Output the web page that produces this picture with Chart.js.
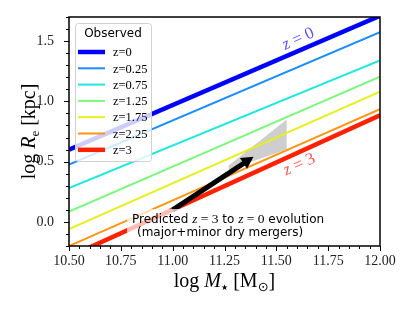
<!DOCTYPE html>
<html>
<head>
<meta charset="utf-8">
<script src="https://cdn.jsdelivr.net/npm/chart.js@4.4.1/dist/chart.umd.min.js"></script>
<style>
  body { margin: 0; background: #fff; }
  #wrap { width: 415px; height: 311px; }
</style>
</head>
<body>
<div id="wrap"><canvas id="sizeChart"></canvas></div>
<script>
// log stellar mass (x) end points shared by all relations
const logMass = [10.5, 12.0];

// observed size-mass relations, log Re at the two mass end points
const logReZ0 = [0.60, 1.71];
const logReZ025 = [0.475, 1.575];
const logReZ075 = [0.28, 1.34];
const logReZ125 = [0.085, 1.205];
const logReZ175 = [-0.06, 1.08];
const logReZ225 = [-0.20, 0.935];
const logReZ3 = [-0.29, 0.885];

const zLabels = ["z=0", "z=0.25", "z=0.75", "z=1.25", "z=1.75", "z=2.25", "z=3"];
const zColors = ["#0000ff", "#1a8cff", "#1ee8e0", "#7cf77c", "#e6f01e", "#ff9410", "#ff2000"];
const zWidths = [4.5, 2, 2, 2, 2, 2, 4.5];

// predicted evolution: arrow and shaded range
const arrowMass = [11.0, 11.39];
const arrowRe = [0.10, 0.54];
const wedgeMass = [11.27, 11.55, 11.55, 11.27];
const wedgeRe = [0.467, 0.85, 0.60, 0.433];

const xTicks = [10.5, 10.75, 11.0, 11.25, 11.5, 11.75, 12.0];
const yTicks = [0.0, 0.5, 1.0, 1.5];

const serif = "'Liberation Serif', 'DejaVu Serif', serif";
const sans = "'DejaVu Sans', sans-serif";

let relations = [logReZ0, logReZ025, logReZ075, logReZ125, logReZ175, logReZ225, logReZ3];
let datasets = relations.map((vals, i) => ({
    label: zLabels[i],
    data: logMass.map((m, k) => ({ x: m, y: vals[k] })),
    borderColor: zColors[i],
    borderWidth: zWidths[i],
    showLine: true,
    pointRadius: 0,
    clip: 0
}));

// draw a row of text pieces with different fonts
function drawRuns(ctx, runs, x, y, align) {
    let total = 0;
    runs.forEach(r => { ctx.font = r.font; total += ctx.measureText(r.text).width; });
    let cx = align === "center" ? x - total / 2 : x;
    ctx.textAlign = "left";
    runs.forEach(r => {
        ctx.font = r.font;
        ctx.fillStyle = r.color || "#000";
        ctx.fillText(r.text, cx, y + (r.dy || 0));
        cx += ctx.measureText(r.text).width;
    });
}

const overlay = {
    id: "overlay",
    beforeDatasetsDraw(chart) {
        let ctx = chart.ctx, xs = chart.scales.x, ys = chart.scales.y, a = chart.chartArea;
        ctx.save();
        ctx.beginPath();
        ctx.rect(a.left, a.top, a.right - a.left, a.bottom - a.top);
        ctx.clip();
        ctx.beginPath();
        wedgeMass.forEach((m, i) => {
            let px = xs.getPixelForValue(m), py = ys.getPixelForValue(wedgeRe[i]);
            if (i === 0) ctx.moveTo(px, py); else ctx.lineTo(px, py);
        });
        ctx.closePath();
        ctx.fillStyle = "rgba(190,190,190,0.75)";
        ctx.fill();
        ctx.restore();
    },
    afterDatasetsDraw(chart) {
        let ctx = chart.ctx, xs = chart.scales.x, ys = chart.scales.y;
        ctx.save();

        // arrow
        let x0 = xs.getPixelForValue(arrowMass[0]), y0 = ys.getPixelForValue(arrowRe[0]);
        let x1 = xs.getPixelForValue(arrowMass[1]), y1 = ys.getPixelForValue(arrowRe[1]);
        let ang = Math.atan2(y1 - y0, x1 - x0);
        let headLen = 12, headW = 6.5;
        let bx = x1 - headLen * Math.cos(ang), by = y1 - headLen * Math.sin(ang);
        ctx.strokeStyle = "#000";
        ctx.lineWidth = 5;
        ctx.beginPath();
        ctx.moveTo(x0, y0);
        ctx.lineTo(bx + 2 * Math.cos(ang), by + 2 * Math.sin(ang));
        ctx.stroke();
        ctx.fillStyle = "#000";
        ctx.beginPath();
        ctx.moveTo(x1, y1);
        ctx.lineTo(bx + headW * Math.sin(ang), by - headW * Math.cos(ang));
        ctx.lineTo(bx - headW * Math.sin(ang), by + headW * Math.cos(ang));
        ctx.closePath();
        ctx.fill();

        // label box for the prediction text
        ctx.fillStyle = "rgba(255,255,255,0.7)";
        ctx.beginPath();
        ctx.roundRect(127, 209, 200, 33, 4);
        ctx.fill();

        let sf = "12px " + sans, mi = "italic 13.5px " + serif, mr = "13.5px " + serif;
        ctx.textBaseline = "alphabetic";
        drawRuns(ctx, [
            { text: "Predicted ", font: sf },
            { text: "z", font: mi },
            { text: " = 3", font: mr },
            { text: " to ", font: sf },
            { text: "z", font: mi },
            { text: " = 0", font: mr },
            { text: " evolution", font: sf }
        ], 132, 223, "left");
        drawRuns(ctx, [{ text: "(major+minor dry mergers)", font: sf }], 137, 236, "left");

        // redshift labels along the lines
        let lbl = [["z = 0", 11.606, 1.517, "rgba(40,40,255,0.8)"], ["z = 3", 11.611, 0.475, "rgba(255,40,40,0.8)"]];
        lbl.forEach(l => {
            ctx.save();
            ctx.translate(xs.getPixelForValue(l[1]), ys.getPixelForValue(l[2]));
            ctx.rotate(-24 * Math.PI / 180);
            ctx.textBaseline = "middle";
            drawRuns(ctx, [
                { text: "z", font: "italic 17px " + serif, color: l[3] },
                { text: l[0].slice(1), font: "17px " + serif, color: l[3] }
            ], 0, 0, "center");
            ctx.restore();
        });
        ctx.restore();
    },
    afterDraw(chart) {
        let ctx = chart.ctx, xs = chart.scales.x, ys = chart.scales.y, a = chart.chartArea;
        ctx.save();
        ctx.strokeStyle = "#000";
        ctx.lineWidth = 1;
        // ticks (outward), major and minor
        ctx.beginPath();
        for (let v = 10.5; v <= 12.0001; v += 0.05) {
            let px = Math.round(xs.getPixelForValue(v)) + 0.5;
            let major = xTicks.some(t => Math.abs(t - v) < 1e-6);
            ctx.moveTo(px, a.bottom);
            ctx.lineTo(px, a.bottom + (major ? 5 : 3));
        }
        for (let v = -0.2; v <= 1.7001; v += 0.1) {
            let py = Math.round(ys.getPixelForValue(v)) + 0.5;
            let major = yTicks.some(t => Math.abs(t - v) < 1e-6);
            ctx.moveTo(a.left, py);
            ctx.lineTo(a.left - (major ? 5 : 3), py);
        }
        ctx.stroke();
        // frame
        ctx.lineWidth = 1.5;
        ctx.strokeRect(a.left, a.top, a.right - a.left, a.bottom - a.top);

        // axis titles
        ctx.textBaseline = "alphabetic";
        drawRuns(ctx, [
            { text: "log ", font: "20px " + serif },
            { text: "M", font: "italic 20px " + serif },
            { text: "\u2605", font: "8px 'DejaVu Sans'", dy: 3 },
            { text: " [M", font: "20px " + serif },
            { text: "\u2299", font: "13px 'DejaVu Sans'", dy: 4 },
            { text: "]", font: "20px " + serif }
        ], (a.left + a.right) / 2, 287, "center");
        ctx.save();
        ctx.translate(35, (a.top + a.bottom) / 2);
        ctx.rotate(-Math.PI / 2);
        drawRuns(ctx, [
            { text: "log ", font: "20px " + serif },
            { text: "R", font: "italic 20px " + serif },
            { text: "e", font: "13px " + serif, dy: 4 },
            { text: " [kpc]", font: "20px " + serif }
        ], 0, 0, "center");
        ctx.restore();

        // legend inside the axes
        ctx.fillStyle = "rgba(255,255,255,0.8)";
        ctx.strokeStyle = "#d0d0d0";
        ctx.lineWidth = 1;
        ctx.beginPath();
        ctx.roundRect(75.5, 23.5, 76, 138, 3);
        ctx.fill();
        ctx.stroke();
        ctx.fillStyle = "#000";
        ctx.font = "12px " + sans;
        ctx.textAlign = "center";
        ctx.textBaseline = "middle";
        ctx.fillText("Observed", 113, 34);
        chart.data.datasets.forEach((d, i) => {
            let ly = 52 + i * 16.3;
            ctx.strokeStyle = d.borderColor;
            ctx.lineWidth = d.borderWidth;
            ctx.beginPath();
            ctx.moveTo(78, ly);
            ctx.lineTo(105, ly);
            ctx.stroke();
            ctx.fillStyle = "#000";
            ctx.textAlign = "left";
            ctx.font = "12.5px " + serif;
            ctx.fillText(d.label, 113, ly + 1);
        });
        ctx.restore();
    }
};

new Chart(document.getElementById("sizeChart").getContext("2d"), {
    type: "scatter",
    data: { datasets: datasets },
    options: {
        responsive: true,
        maintainAspectRatio: false,
        animation: false,
        layout: { padding: { top: 17, right: 35, left: 0, bottom: 0 } },
        plugins: { legend: { display: false }, tooltip: { enabled: false } },
        scales: {
            x: {
                type: "linear", min: 10.5, max: 12.0,
                grid: { display: false }, border: { display: false },
                afterBuildTicks: s => { s.ticks = xTicks.map(v => ({ value: v })); },
                afterFit: s => { s.height = 65; },
                ticks: { padding: -1, color: "#222", font: { family: serif, size: 14 }, maxRotation: 0,
                         callback: v => v.toFixed(2) }
            },
            y: {
                type: "linear", min: -0.2, max: 1.7,
                grid: { display: false }, border: { display: false },
                afterBuildTicks: s => { s.ticks = yTicks.map(v => ({ value: v })); },
                afterFit: s => { s.width = 69; },
                ticks: { padding: 7, color: "#222", font: { family: serif, size: 14 },
                         callback: v => v.toFixed(1) }
            }
        }
    },
    plugins: [overlay]
});
</script>
</body>
</html>
